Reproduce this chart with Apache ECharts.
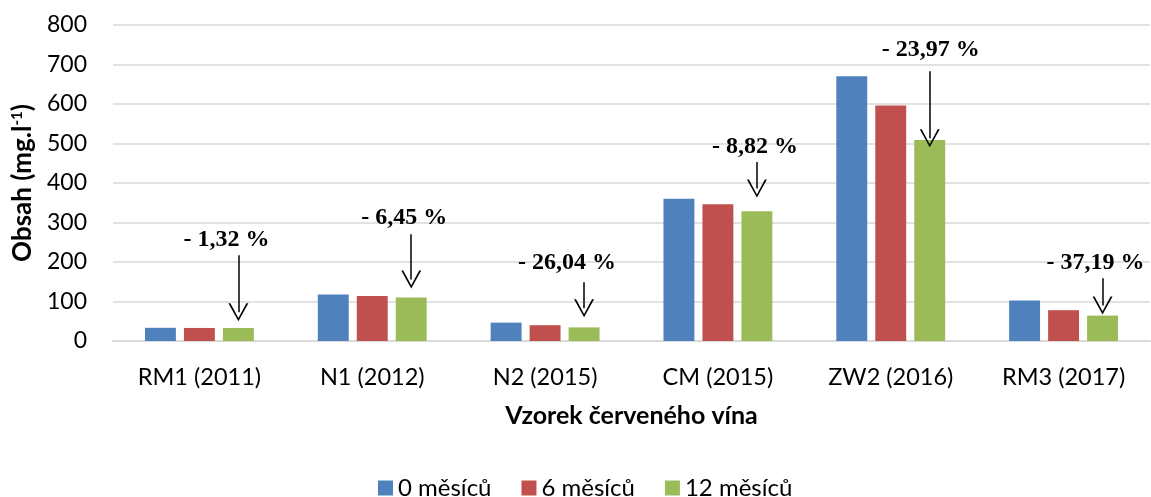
<!DOCTYPE html>
<html>
<head>
<meta charset="utf-8">
<script src="https://cdn.jsdelivr.net/npm/echarts@6/dist/echarts.min.js"></script>
<style>
  html, body { margin: 0; padding: 0; background: #fff; }
  #chart { width: 1151px; height: 497px; }
</style>
</head>
<body>
<div id="chart"></div>
<script>
// data
const categories = ['RM1 (2011)', 'N1 (2012)', 'N2 (2015)', 'CM (2015)', 'ZW2 (2016)', 'RM3 (2017)'];
const seriesNames = ['0 měsíců', '6 měsíců', '12 měsíců'];
const months0 = [33.4, 117.5, 46.5, 360, 670, 102.4];
const months6 = [33.0, 114, 40, 346, 596, 78];
const months12 = [33.0, 110, 34.4, 328.5, 509, 64.3];

// percentage annotations (text position and arrow ends in axis units)
const annoLabels = ['- 1,32 %', '- 6,45 %', '- 26,04 %', '- 8,82 %', '- 23,97 %', '- 37,19 %'];
const annoTextY = [255, 313, 199, 491, 736, 199];
const arrowTop = [217, 270, 149, 453, 683, 159];
const arrowTip = [73, 156, 83, 386, 513, 90];
const annoShift = [-12, -7, -17, -2, 1, -7];

const colors = ['#4f81bd', '#c0504d', '#9bbb59'];
const sans = 'Lato, "Noto Sans", sans-serif';
const serif = '"Liberation Serif", "DejaVu Serif", serif';

const chart = echarts.init(document.getElementById('chart'));

// thin open "V" arrow head, tip pointing up
const vHead = 'path://M0,20 L10,0 L20,20 L18,20 L10,3.5 L2,20 Z';

const arrowLines = categories.map((c, i) => [
    { coord: [i, arrowTop[i]] },
    { coord: [i, arrowTip[i]] }
]);
const annoPoints = categories.map((c, i) => ({
    coord: [i, annoTextY[i]],
    value: annoLabels[i],
    label: { offset: [annoShift[i], 0] }
}));

const values = [months0, months6, months12];
const series = seriesNames.map((name, k) => {
    const s = {
        name: name,
        type: 'bar',
        data: values[k],
        barGap: '26%',
        barCategoryGap: '37%',
        itemStyle: { color: colors[k] }
    };
    if (k === 2) {
        s.markLine = {
            silent: true,
            symbol: ['none', vHead],
            symbolSize: [20, 18],
            lineStyle: { color: '#000', width: 1.5, type: 'solid' },
            label: { show: false },
            data: arrowLines
        };
        s.markPoint = {
            silent: true,
            symbol: 'circle',
            symbolSize: 0,
            label: {
                show: true,
                formatter: p => p.value,
                color: '#000',
                fontFamily: serif,
                fontWeight: 'bold',
                fontSize: 24
            },
            data: annoPoints
        };
    }
    return s;
});

chart.setOption({
    animation: false,
    color: colors,
    grid: { left: 113, right: 1, top: 25, bottom: 156 },
    legend: {
        data: seriesNames,
        left: 373,
        top: 471,
        itemWidth: 15,
        itemHeight: 15,
        itemGap: 30,
        icon: 'rect',
        textStyle: { fontFamily: sans, fontSize: 24, color: '#000' }
    },
    xAxis: {
        type: 'category',
        data: categories,
        axisLine: { lineStyle: { color: '#d9d9d9', width: 2 } },
        axisTick: { show: false },
        axisLabel: { fontFamily: sans, fontSize: 23.5, color: '#000', margin: 24 },
        name: 'Vzorek červeného vína',
        nameLocation: 'middle',
        nameGap: 62,
        nameTextStyle: { fontFamily: sans, fontSize: 25, fontWeight: 'bold', color: '#000' }
    },
    yAxis: {
        type: 'value',
        min: 0,
        max: 800,
        interval: 100,
        axisLine: { show: false },
        axisTick: { show: false },
        splitLine: { lineStyle: { color: '#d9d9d9', width: 1.5 } },
        axisLabel: { fontFamily: sans, fontSize: 23, color: '#000', margin: 26 },
        name: '{b|Obsah (mg.l}{s|-1}{b|)}',
        nameLocation: 'middle',
        nameGap: 74,
        nameTextStyle: {
            rich: {
                b: { fontFamily: sans, fontSize: 26, fontWeight: 'bold', color: '#000' },
                s: { fontFamily: sans, fontSize: 15, fontWeight: 'bold', color: '#000', verticalAlign: 'top', padding: [0, 0, 12, 0] }
            }
        }
    },
    series: series
});
</script>
</body>
</html>
